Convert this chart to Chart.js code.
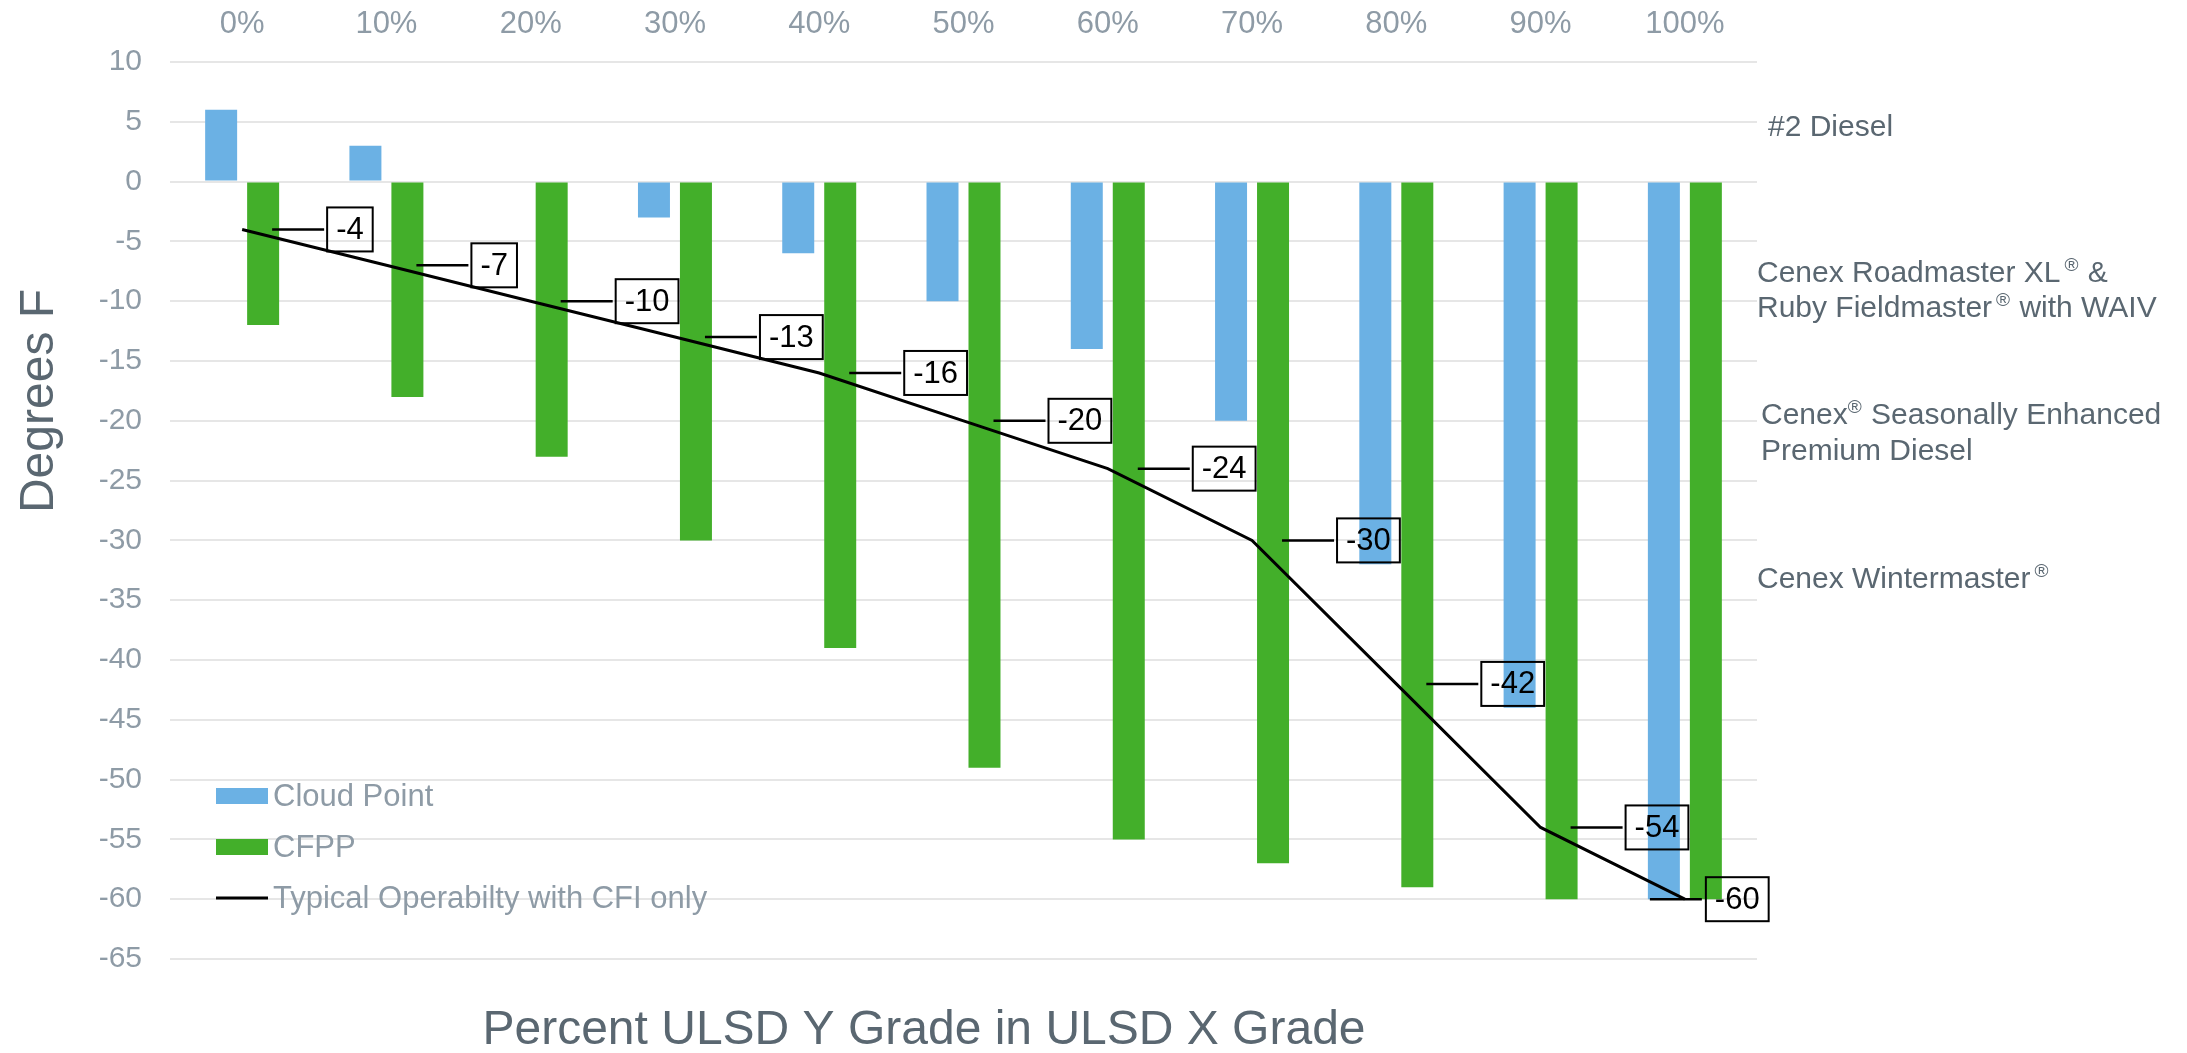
<!DOCTYPE html>
<html>
<head>
<meta charset="utf-8">
<script src="https://cdn.jsdelivr.net/npm/chart.js@4.4.1/dist/chart.umd.min.js"></script>
<style>
html,body{margin:0;padding:0;background:#ffffff;overflow:hidden;}
canvas{display:block;}
</style>
</head>
<body>
<canvas id="c" width="2187" height="1053"></canvas>
<script>
// ---------- data ----------
const categories = ['0%','10%','20%','30%','40%','50%','60%','70%','80%','90%','100%'];
const cloudPoint = [6, 3, 0, -3, -6, -10, -14, -20, -32, -44, -60];
const cfpp = [-12, -18, -23, -30, -39, -49, -55, -57, -59, -60, -60];
const operability = [-4, -7, -10, -13, -16, -20, -24, -30, -42, -54, -60];
const yMin = -65;
const yMax = 10;
const yStep = 5;
const seriesNames = ['Cloud Point', 'CFPP', 'Typical Operabilty with CFI only'];
const xTitle = 'Percent ULSD Y Grade in ULSD X Grade';
const yTitle = 'Degrees F';
// right-side product names (runs: [text, isSuperscript])
const fuelLabels = [
  [[['#2 Diesel', false]]],
  [[['Cenex Roadmaster XL', false], ['\u00AE', true], [' &', false]],
   [['Ruby Fieldmaster', false], ['\u00AE', true], [' with WAIV', false]]],
  [[['Cenex', false], ['\u00AE', true], [' Seasonally Enhanced', false]],
   [['Premium Diesel', false]]],
  [[['Cenex Wintermaster', false], ['\u00AE', true]]]
];

// ---------- styles / layout ----------
const FONT = "'Liberation Sans', Arial, Helvetica, sans-serif";
const BLUE = '#6BB1E4';
const GREEN = '#43AF2A';
const TICK = '#8E9BA6';
const TITLE = '#5A6771';
const GRID = '#E6E6E6';
const fuelLayout = [
  {x: 1768, y: 136, gap: 35},
  {x: 1757, y: 282, gap: 35},
  {x: 1761, y: 424, gap: 36},
  {x: 1757, y: 588, gap: 35}
];
const labelPlacementDefault = {from: 30, to: 82, box: 85};
const labelPlacementLast = {from: -35, to: 17, box: 21};

function drawRuns(ctx, runs, x, y, size, color) {
  let cx = x;
  ctx.fillStyle = color;
  ctx.textBaseline = 'alphabetic';
  ctx.textAlign = 'left';
  runs.forEach(([t, sup], idx) => {
    if (sup) {
      const prev = idx > 0 ? runs[idx - 1][0] : '';
      if (prev !== 'Cenex') cx += 4;
      ctx.font = Math.round(size * 0.62) + 'px ' + FONT;
      ctx.fillText(t, cx, y - size * 0.36);
      cx += ctx.measureText(t).width + 1;
    } else {
      ctx.font = size + 'px ' + FONT;
      ctx.fillText(t, cx, y);
      cx += ctx.measureText(t).width;
    }
  });
}

const annotations = {
  id: 'annotations',
  afterDatasetsDraw(chart) {
    const ctx = chart.ctx;
    const meta = chart.getDatasetMeta(0);
    ctx.save();
    // data labels with leader lines
    meta.data.forEach((pt, i) => {
      const x = pt.x, y = pt.y;
      const pl = i === meta.data.length - 1 ? labelPlacementLast : labelPlacementDefault;
      const txt = String(operability[i]);
      ctx.font = '31px ' + FONT;
      const w = ctx.measureText(txt).width + 18;
      const h = 44;
      ctx.strokeStyle = '#000';
      ctx.lineWidth = 2.5;
      ctx.beginPath();
      ctx.moveTo(x + pl.from, y);
      ctx.lineTo(x + pl.to, y);
      ctx.stroke();
      ctx.lineWidth = 2;
      ctx.strokeRect(x + pl.box, y - h / 2, w, h);
      ctx.fillStyle = '#000';
      ctx.textAlign = 'center';
      ctx.textBaseline = 'middle';
      ctx.fillText(txt, x + pl.box + w / 2, y + 1);
    });
    ctx.restore();
  },
  afterDraw(chart) {
    const ctx = chart.ctx;
    ctx.save();
    // legend inside plot
    const ds = chart.data.datasets;
    const legendItems = [ds[1], ds[2], ds[0]];
    const rows = [796, 847, 898];
    legendItems.forEach((d, i) => {
      const y = rows[i];
      if (d.type === 'line') {
        ctx.strokeStyle = d.borderColor;
        ctx.lineWidth = 3;
        ctx.beginPath();
        ctx.moveTo(216, y);
        ctx.lineTo(268, y);
        ctx.stroke();
      } else {
        ctx.fillStyle = d.backgroundColor;
        ctx.fillRect(216, y - 8, 52, 16);
      }
      ctx.fillStyle = TICK;
      ctx.font = '31px ' + FONT;
      ctx.textAlign = 'left';
      ctx.textBaseline = 'middle';
      ctx.fillText(d.label, 273, y + 1);
    });
    // right side labels
    fuelLabels.forEach((lines, i) => {
      const L = fuelLayout[i];
      lines.forEach((runs, j) => drawRuns(ctx, runs, L.x, L.y + j * L.gap, 30, TITLE));
    });
    // axis titles
    ctx.fillStyle = TITLE;
    ctx.font = '48px ' + FONT;
    ctx.textAlign = 'center';
    ctx.textBaseline = 'alphabetic';
    ctx.fillText(xTitle, 924, 1044);
    ctx.translate(53, 401);
    ctx.rotate(-Math.PI / 2);
    ctx.fillText(yTitle, 0, 0);
    ctx.restore();
  }
};

new Chart(document.getElementById('c').getContext('2d'), {
  type: 'bar',
  data: {
    labels: categories,
    datasets: [
      {type: 'line', label: seriesNames[2], data: operability, borderColor: '#000000',
       backgroundColor: '#000000', borderWidth: 3, pointRadius: 0, fill: false, tension: 0, order: 0},
      {label: seriesNames[0], data: cloudPoint, backgroundColor: BLUE, order: 1,
       categoryPercentage: 0.582, barPercentage: 0.762},
      {label: seriesNames[1], data: cfpp, backgroundColor: GREEN, order: 1,
       categoryPercentage: 0.582, barPercentage: 0.762}
    ]
  },
  options: {
    responsive: false,
    animation: false,
    devicePixelRatio: 1,
    layout: {padding: {left: 0, top: 0, right: 430, bottom: 94}},
    plugins: {legend: {display: false}, tooltip: {enabled: false}, title: {display: false}},
    scales: {
      x: {
        position: 'top',
        grid: {display: false, drawTicks: false},
        border: {display: false},
        ticks: {font: {size: 31, family: FONT}, color: TICK, padding: 19, maxRotation: 0, autoSkip: false},
        afterFit(s) { s.height = 62; }
      },
      y: {
        min: yMin, max: yMax,
        ticks: {stepSize: yStep, font: {size: 30, family: FONT}, color: TICK, padding: 28},
        grid: {color: GRID, lineWidth: 2, drawTicks: false},
        border: {display: false},
        afterFit(s) { s.width = 170; }
      }
    }
  },
  plugins: [annotations]
});
</script>
</body>
</html>
